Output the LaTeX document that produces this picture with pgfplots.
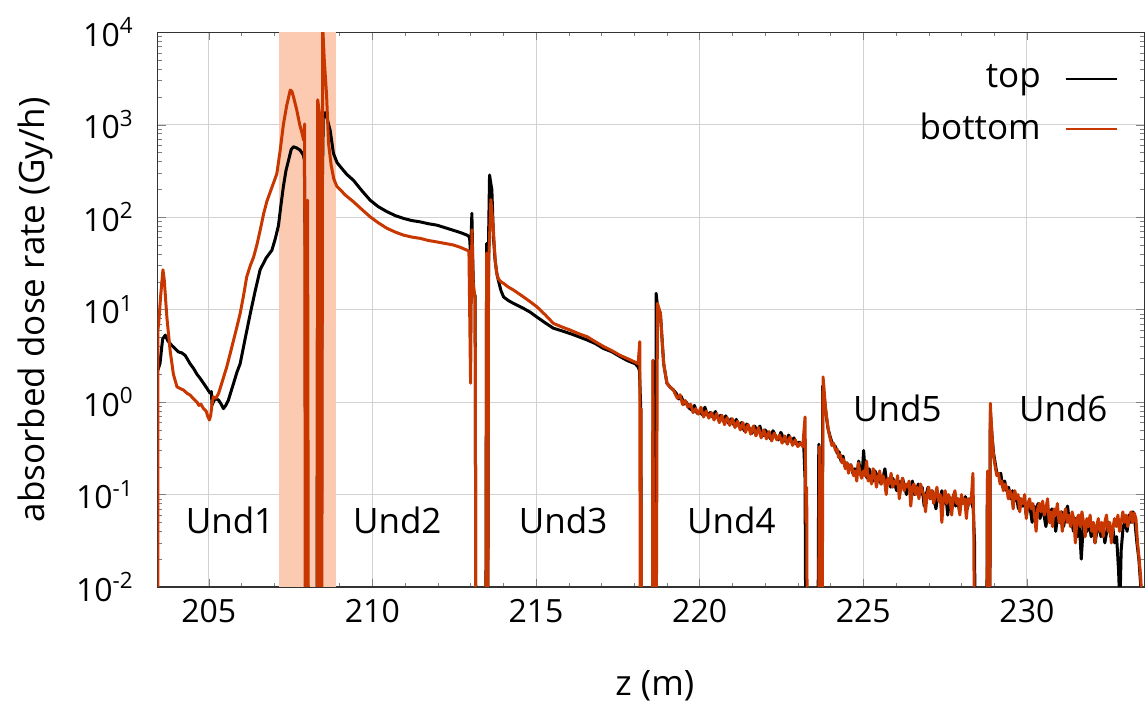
\documentclass[border=0pt]{standalone}
\usepackage{fontspec}
\setmainfont{Open Sans}
\usepackage{pgfplots}
\pgfplotsset{compat=1.18}
\definecolor{myred}{RGB}{200,55,0}
\definecolor{shade}{RGB}{252,202,176}
\begin{document}
\fontsize{17.5}{21}\selectfont
\begin{tikzpicture}
\useasboundingbox (-78.85pt,-58.5pt) rectangle (495.15pt,293.5pt);
\begin{axis}[
  at={(0,0)}, anchor=south west,
  scale only axis, width=493.2pt, height=277.35pt,
  xmin=203.44, xmax=233.58,
  ymode=log, ymin=0.01, ymax=10000,
  xtick={205,210,215,220,225,230},
  minor x tick num=4,
  ytick={0.01,0.1,1,10,100,1000,10000},
  yticklabels={10\textsuperscript{-2},10\textsuperscript{-1},10\textsuperscript{0},10\textsuperscript{1},10\textsuperscript{2},10\textsuperscript{3},10\textsuperscript{4}},
  /pgf/number format/assume math mode=true,
  tick label style={font=\fontsize{16}{19}\selectfont},
  yticklabel style={xshift=-6pt},
  major tick length=4pt, minor tick length=2pt,
  grid=major, major grid style={gray!35, line width=0.5pt},
  axis line style={black!80, line width=0.6pt},
  xlabel={z (m)}, ylabel={absorbed dose rate (Gy/h)},
  xlabel style={at={(axis description cs:0.504,-0.1785)}, anchor=center},
  ylabel style={at={(axis description cs:-0.1244,0.5)}, anchor=center},
  legend style={at={(axis description cs:1,1)}, anchor=north east, xshift=-10pt, yshift=-12pt, draw=none, fill=none, row sep=6pt, font=\fontsize{17.5}{21}\selectfont, /tikz/every odd column/.append style={column sep=10pt}},
  legend cell align=right, legend plot pos=right,
  legend image code/.code={\draw[#1, line width=1pt] (0pt,0pt) -- (25.5pt,0pt);},
]
\addplot[fill=shade, draw=none, forget plot] coordinates {(207.15,0.01) (208.89,0.01) (208.89,10000) (207.15,10000)} -- cycle;

\addplot[black, line width=1.5pt, line join=round] coordinates {
(203.44,2.2) (203.51,2.6) (203.59,4.8) (203.67,5.3) (203.75,4.6) (203.87,4.1) (203.97,3.8) (204.07,3.5) (204.18,3.4) (204.28,3.2) (204.43,2.6) (204.54,2.3) (204.64,2.0) (204.74,1.8) (204.84,1.6) (204.95,1.4) (205.04,1.25) (205.08,1.3) (205.10,0.93) (205.14,1.0) (205.20,1.1) (205.30,1.05) (205.38,0.95) (205.45,0.85) (205.52,0.92) (205.60,1.05) (205.68,1.3) (205.76,1.6) (205.86,2.1) (205.96,2.6) (206.12,5.0) (206.27,9.1) (206.42,16) (206.57,27) (206.75,36) (206.93,44) (207.03,58) (207.13,81) (207.20,130) (207.28,214) (207.36,320) (207.44,415) (207.52,540) (207.59,578) (207.69,560) (207.79,532) (207.89,470) (207.92,420) (207.95,44) (207.97,0.0001) (208.30,0.0001) (208.33,200) (208.36,0.0001) (208.43,0.0001) (208.46,110) (208.50,1300) (208.56,1350) (208.62,1150) (208.71,870) (208.81,490) (208.92,390) (209.02,352) (209.22,290) (209.42,251) (209.67,195) (209.93,153) (210.18,130) (210.44,115) (210.70,104) (210.95,97) (211.20,92) (211.46,89) (211.71,85) (211.97,82) (212.22,77) (212.48,72) (212.70,68) (212.89,64) (212.94,62) (212.97,60) (213.00,40) (213.04,110) (213.07,30) (213.09,16) (213.14,14) (213.17,0.0001) (213.46,0.0001) (213.49,52) (213.52,0.0001) (213.55,60) (213.58,286) (213.62,230) (213.65,200) (213.70,60) (213.75,34) (213.80,25) (213.85,20.6) (213.93,16) (214.01,13.7) (214.16,12.5) (214.31,11.7) (214.46,11.0) (214.62,10.3) (214.82,9.4) (215.03,8.3) (215.28,7.2) (215.53,6.3) (215.79,5.9) (216.05,5.5) (216.30,5.1) (216.56,4.7) (216.81,4.3) (217.06,3.8) (217.32,3.5) (217.57,3.1) (217.80,2.8) (218.03,2.6) (218.12,2.4) (218.16,2.2) (218.20,0.85) (218.24,0.0001) (218.55,0.0001) (218.58,2.8) (218.62,0.0001) (218.65,0.0001) (218.67,15) (218.71,11) (218.80,9.1) (218.90,2.6) (219.00,1.6) (219.10,1.45)
(219.20,1.35) (219.28,1.25) (219.36,1.08) (219.44,1.15) (219.52,0.95) (219.60,0.99) (219.68,0.86) (219.76,0.82) (219.84,0.92) (219.92,0.76) (220.00,0.80) (220.08,0.73) (220.16,0.88) (220.24,0.72) (220.32,0.77) (220.40,0.69) (220.48,0.79) (220.56,0.67) (220.64,0.72) (220.72,0.62) (220.80,0.71) (220.88,0.59) (220.96,0.66) (221.04,0.57) (221.12,0.65) (221.20,0.55) (221.28,0.60) (221.36,0.49) (221.44,0.58) (221.52,0.52) (221.60,0.46) (221.68,0.55) (221.76,0.49) (221.84,0.55) (221.92,0.43) (222.00,0.50) (222.08,0.46) (222.16,0.40) (222.24,0.49) (222.32,0.43) (222.40,0.39) (222.48,0.47) (222.56,0.41) (222.64,0.37) (222.72,0.44) (222.80,0.37) (222.88,0.41) (222.96,0.35) (223.04,0.37) (223.12,0.35) (223.18,0.34) (223.22,0.15) (223.26,0.0001) (223.60,0.0001) (223.64,0.35) (223.67,0.0001) (223.73,0.0001) (223.76,1.5) (223.80,1.2) (223.86,0.75) (223.92,0.52) (223.99,0.42)
(224.04,0.37) (224.10,0.34) (224.15,0.33) (224.20,0.28) (224.26,0.29) (224.32,0.23) (224.38,0.26) (224.44,0.20) (224.50,0.22) (224.56,0.19) (224.62,0.21) (224.68,0.17) (224.74,0.19) (224.80,0.16) (224.86,0.23) (224.92,0.17) (224.98,0.20) (225.01,0.30) (225.06,0.17) (225.12,0.15) (225.18,0.19) (225.24,0.16) (225.30,0.14) (225.36,0.18) (225.42,0.15) (225.48,0.17) (225.54,0.13) (225.60,0.15) (225.66,0.19) (225.72,0.13) (225.78,0.14) (225.84,0.12) (225.90,0.15) (225.96,0.13) (226.02,0.11) (226.08,0.14) (226.14,0.12) (226.20,0.15) (226.26,0.12) (226.32,0.10) (226.38,0.13) (226.44,0.11) (226.50,0.14) (226.56,0.10) (226.62,0.11) (226.68,0.13) (226.74,0.10) (226.80,0.12) (226.86,0.075) (226.92,0.10) (226.98,0.12) (227.04,0.09) (227.10,0.11) (227.16,0.09) (227.22,0.07) (227.28,0.10) (227.34,0.085) (227.40,0.11) (227.46,0.08) (227.52,0.10) (227.58,0.06) (227.64,0.09) (227.70,0.08) (227.76,0.10) (227.82,0.075) (227.88,0.09) (227.94,0.065) (228.00,0.085) (228.06,0.08) (228.12,0.095) (228.18,0.07) (228.24,0.09) (228.30,0.085) (228.36,0.07) (228.40,0.03) (228.44,0.0001) (228.76,0.0001) (228.79,0.15) (228.83,0.0001) (228.86,0.0001) (228.88,0.8) (228.93,0.45) (228.98,0.28)
(229.03,0.22) (229.08,0.17) (229.14,0.16) (229.20,0.17) (229.26,0.12) (229.32,0.14) (229.38,0.11) (229.44,0.12) (229.50,0.09) (229.56,0.11) (229.62,0.085) (229.68,0.095) (229.74,0.07) (229.80,0.09) (229.86,0.075) (229.92,0.085) (229.98,0.06) (230.04,0.08) (230.10,0.07) (230.16,0.05) (230.22,0.075) (230.28,0.065) (230.34,0.08) (230.40,0.055) (230.46,0.07) (230.52,0.06) (230.58,0.045) (230.64,0.065) (230.70,0.05) (230.76,0.07) (230.82,0.06) (230.88,0.04) (230.94,0.06) (231.00,0.05) (231.06,0.065) (231.12,0.045) (231.18,0.06) (231.24,0.075) (231.30,0.05) (231.36,0.055) (231.42,0.04) (231.48,0.055) (231.54,0.035) (231.60,0.05) (231.66,0.02) (231.72,0.045) (231.78,0.05) (231.84,0.04) (231.90,0.055) (231.96,0.035) (232.02,0.045) (232.08,0.03) (232.14,0.04) (232.20,0.05) (232.26,0.035) (232.32,0.045) (232.38,0.03) (232.44,0.04) (232.50,0.05) (232.56,0.035) (232.62,0.045) (232.68,0.03) (232.74,0.035) (232.80,0.015) (232.84,0.006) (232.88,0.025) (232.94,0.045) (233.00,0.05) (233.06,0.04) (233.12,0.06) (233.18,0.05) (233.24,0.065) (233.30,0.05) (233.36,0.03) (233.42,0.02) (233.48,0.01) (233.54,0.0001)
};
\addlegendentry{top}

\addplot[myred, line width=1.5pt, line join=round] coordinates {
(203.44,0.0001) (203.445,6.0) (203.47,7.1) (203.53,14) (203.60,27) (203.64,21) (203.72,8.3) (203.82,3.6) (203.92,2.0) (204.03,1.46) (204.13,1.40) (204.23,1.35) (204.33,1.25) (204.43,1.19) (204.54,1.08) (204.64,1.0) (204.70,0.92) (204.76,0.95) (204.84,0.85) (204.92,0.80) (204.97,0.70) (205.02,0.64) (205.06,0.72) (205.10,0.95) (205.14,1.14) (205.22,1.10) (205.30,1.24) (205.42,1.7) (205.55,2.4) (205.66,3.4) (205.76,4.7) (205.86,6.5) (205.96,9.1) (206.06,14) (206.16,22.6) (206.27,30) (206.37,37) (206.47,50) (206.57,72) (206.68,110) (206.78,150) (206.93,210) (207.08,295) (207.18,520) (207.28,1000) (207.38,1600) (207.49,2370) (207.54,2300) (207.59,2000) (207.69,1440) (207.78,1000) (207.85,810) (207.90,680) (207.93,1020) (207.955,0.0001) (207.99,0.0001) (208.02,153) (208.05,0.0001) (208.31,0.0001) (208.33,1860) (208.39,1270) (208.42,0.0001) (208.45,0.0001) (208.48,12000) (208.53,5000) (208.60,2100) (208.66,630) (208.74,365) (208.82,260) (208.91,217) (209.17,174) (209.42,147) (209.67,122) (209.93,101) (210.18,87) (210.44,76) (210.70,69) (210.95,64) (211.20,61) (211.46,59) (211.71,56) (211.97,54) (212.22,52) (212.48,50) (212.70,47) (212.89,44) (212.95,43) (213.00,1.6) (213.04,73) (213.08,20) (213.14,12.6) (213.17,0.0001) (213.46,0.0001) (213.49,41) (213.52,0.0001) (213.55,30) (213.62,155) (213.69,80) (213.75,35) (213.80,24.5) (213.85,21.5) (213.93,20) (214.01,19.2) (214.16,17.5) (214.31,16.3) (214.46,15) (214.62,13.7) (214.82,12.2) (215.03,10.7) (215.28,8.8) (215.53,7.1) (215.79,6.5) (216.05,6.0) (216.30,5.5) (216.56,5.1) (216.81,4.5) (217.06,4.0) (217.32,3.6) (217.57,3.2) (217.80,2.95) (218.03,2.7) (218.12,2.6) (218.17,4.5) (218.19,0.0001) (218.21,0.85) (218.23,0.0001) (218.55,0.0001) (218.57,2.84) (218.62,0.0001) (218.66,0.0001) (218.71,11.7) (218.80,9.1) (218.90,2.6) (219.00,1.6) (219.10,1.45) (219.20,1.35)
(219.24,1.25) (219.32,1.10) (219.40,1.20) (219.48,0.94) (219.56,1.04) (219.64,0.88) (219.72,0.95) (219.80,0.77) (219.88,0.85) (219.96,0.74) (220.04,0.88) (220.12,0.69) (220.20,0.80) (220.28,0.67) (220.36,0.77) (220.44,0.64) (220.52,0.75) (220.60,0.60) (220.68,0.72) (220.76,0.57) (220.84,0.68) (220.92,0.56) (221.00,0.66) (221.08,0.53) (221.16,0.62) (221.24,0.50) (221.32,0.60) (221.40,0.47) (221.48,0.57) (221.56,0.45) (221.64,0.55) (221.72,0.43) (221.80,0.53) (221.88,0.41) (221.96,0.50) (222.04,0.40) (222.12,0.48) (222.20,0.38) (222.28,0.46) (222.36,0.39) (222.44,0.44) (222.52,0.36) (222.60,0.43) (222.68,0.35) (222.76,0.42) (222.84,0.34) (222.92,0.39) (223.00,0.33) (223.08,0.36) (223.15,0.33) (223.22,0.69) (223.25,0.05) (223.27,0.12) (223.30,0.0001) (223.62,0.0001) (223.66,0.33) (223.69,0.0001) (223.73,0.0001) (223.77,1.87) (223.80,1.4) (223.84,0.9) (223.89,0.64) (223.94,0.48) (223.99,0.40)
(224.04,0.34) (224.09,0.36) (224.15,0.30) (224.20,0.31) (224.25,0.25) (224.30,0.27) (224.35,0.22) (224.40,0.24) (224.45,0.19) (224.50,0.22) (224.55,0.17) (224.60,0.21) (224.65,0.20) (224.70,0.16) (224.75,0.18) (224.80,0.14) (224.85,0.22) (224.90,0.17) (224.95,0.15) (225.00,0.18) (225.05,0.16) (225.10,0.23) (225.15,0.14) (225.20,0.16) (225.25,0.13) (225.30,0.19) (225.35,0.17) (225.40,0.12) (225.45,0.15) (225.50,0.18) (225.55,0.13) (225.60,0.16) (225.65,0.14) (225.70,0.10) (225.75,0.15) (225.80,0.13) (225.85,0.17) (225.90,0.12) (225.95,0.14) (226.00,0.13) (226.05,0.16) (226.10,0.09) (226.15,0.12) (226.20,0.15) (226.25,0.11) (226.30,0.13) (226.35,0.12) (226.40,0.14) (226.45,0.075) (226.50,0.12) (226.55,0.13) (226.60,0.10) (226.65,0.12) (226.70,0.09) (226.75,0.13) (226.80,0.11) (226.85,0.10) (226.90,0.065) (226.95,0.10) (227.00,0.12) (227.05,0.09) (227.10,0.11) (227.15,0.08) (227.20,0.10) (227.25,0.12) (227.30,0.085) (227.35,0.10) (227.40,0.05) (227.45,0.09) (227.50,0.11) (227.55,0.08) (227.60,0.10) (227.65,0.09) (227.70,0.06) (227.75,0.095) (227.80,0.11) (227.85,0.08) (227.90,0.09) (227.95,0.06) (228.00,0.10) (228.05,0.08) (228.10,0.09) (228.15,0.055) (228.20,0.09) (228.25,0.08) (228.30,0.09) (228.35,0.17) (228.38,0.03) (228.40,0.0001) (228.76,0.0001) (228.80,0.18) (228.83,0.0001) (228.86,0.0001) (228.88,0.97) (228.93,0.45) (228.98,0.26)
(229.03,0.20) (229.08,0.16) (229.13,0.17) (229.18,0.13) (229.23,0.14) (229.28,0.11) (229.33,0.13) (229.38,0.12) (229.43,0.09) (229.48,0.11) (229.53,0.10) (229.58,0.07) (229.63,0.11) (229.68,0.09) (229.73,0.10) (229.78,0.065) (229.83,0.09) (229.88,0.08) (229.93,0.10) (229.98,0.055) (230.03,0.08) (230.08,0.09) (230.13,0.07) (230.18,0.08) (230.23,0.06) (230.28,0.04) (230.33,0.07) (230.38,0.08) (230.43,0.065) (230.48,0.085) (230.53,0.06) (230.58,0.07) (230.63,0.09) (230.68,0.05) (230.73,0.065) (230.78,0.045) (230.83,0.07) (230.88,0.06) (230.93,0.08) (230.98,0.05) (231.03,0.065) (231.08,0.04) (231.13,0.06) (231.18,0.07) (231.23,0.05) (231.28,0.06) (231.33,0.045) (231.38,0.065) (231.43,0.055) (231.48,0.03) (231.53,0.055) (231.58,0.06) (231.63,0.045) (231.68,0.065) (231.73,0.05) (231.78,0.035) (231.83,0.055) (231.88,0.045) (231.93,0.06) (231.98,0.04) (232.03,0.05) (232.08,0.03) (232.13,0.045) (232.18,0.055) (232.23,0.04) (232.28,0.05) (232.33,0.035) (232.38,0.05) (232.43,0.06) (232.48,0.04) (232.53,0.05) (232.58,0.03) (232.63,0.045) (232.68,0.055) (232.73,0.045) (232.78,0.06) (232.83,0.04) (232.88,0.05) (232.93,0.065) (232.98,0.05) (233.03,0.06) (233.08,0.045) (233.13,0.055) (233.18,0.065) (233.23,0.05) (233.28,0.063) (233.33,0.055) (233.38,0.03) (233.43,0.02) (233.48,0.012) (233.52,0.005) (233.56,0.0001)
};
\addlegendentry{bottom}

\node at (axis cs:205.65,0.0527) {Und1};
\node at (axis cs:210.76,0.0527) {Und2};
\node at (axis cs:215.83,0.0527) {Und3};
\node at (axis cs:220.97,0.0527) {Und4};
\node at (axis cs:226.04,0.86) {Und5};
\node at (axis cs:231.11,0.86) {Und6};
\end{axis}
\end{tikzpicture}
\end{document}
